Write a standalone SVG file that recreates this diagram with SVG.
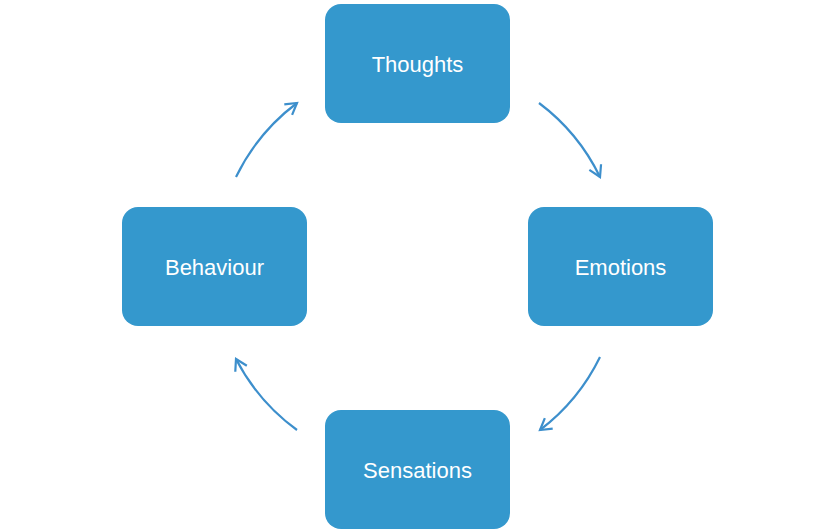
<svg xmlns="http://www.w3.org/2000/svg" width="836" height="532" viewBox="0 0 836 532">
  <defs>
    <style>
      .box { fill: #3498cd; }
      .lbl { fill: #ffffff; font-family: "Liberation Sans", Arial, sans-serif; font-size: 22px; text-anchor: middle; }
      .arc { fill: none; stroke: #3d8fcc; stroke-width: 2.2; }
    </style>
    <marker id="arrow" markerUnits="userSpaceOnUse" markerWidth="30" markerHeight="30" viewBox="-15 -15 30 30" refX="0" refY="0" orient="auto">
      <path d="M -11 -6.5 L 0 0 L -11 6.5" fill="none" stroke="#3d8fcc" stroke-width="2.2"/>
    </marker>
  </defs>
  <rect width="836" height="532" fill="#ffffff"/>
  <g id="connectors">
    <path class="arc" d="M 539 103 A 203.5 203.5 0 0 1 600 177" marker-end="url(#arrow)"/>
    <path class="arc" d="M 600 357 A 203.5 203.5 0 0 1 540 430" marker-end="url(#arrow)"/>
    <path class="arc" d="M 297 430 A 203.5 203.5 0 0 1 236 359" marker-end="url(#arrow)"/>
    <path class="arc" d="M 236 177 A 203.5 203.5 0 0 1 297 103" marker-end="url(#arrow)"/>
  </g>
  <g id="thoughts">
    <rect class="box" x="325" y="4" width="185" height="119" rx="16"/>
    <text class="lbl" x="417.5" y="71.5">Thoughts</text>
  </g>
  <g id="emotions">
    <rect class="box" x="528" y="207" width="185" height="119" rx="16"/>
    <text class="lbl" x="620.5" y="274.5">Emotions</text>
  </g>
  <g id="sensations">
    <rect class="box" x="325" y="410" width="185" height="119" rx="16"/>
    <text class="lbl" x="417.5" y="477.5">Sensations</text>
  </g>
  <g id="behaviour">
    <rect class="box" x="122" y="207" width="185" height="119" rx="16"/>
    <text class="lbl" x="214.5" y="274.5">Behaviour</text>
  </g>
</svg>
